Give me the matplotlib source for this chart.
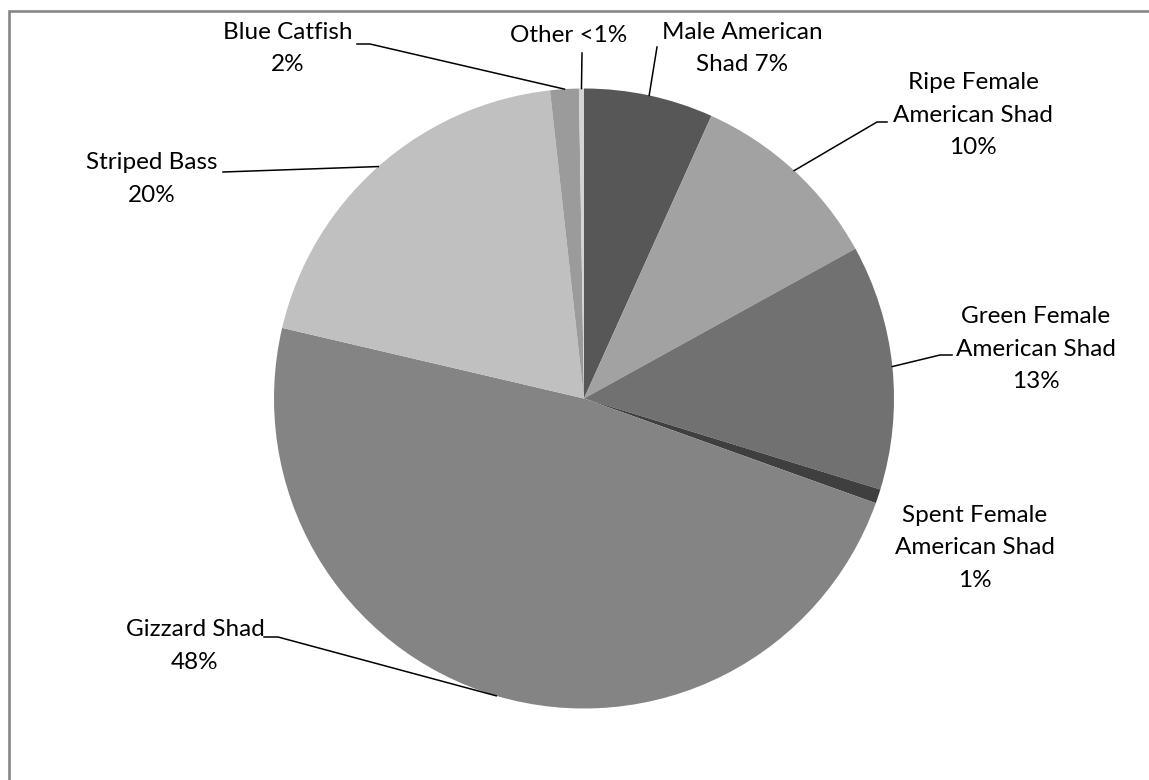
import matplotlib.pyplot as plt
import numpy as np

plt.rcParams['font.family'] = ['Lato', 'DejaVu Sans']

# slices, clockwise from 12 o'clock (percent of catch)
names = ['Male American\nShad', 'Ripe Female\nAmerican Shad', 'Green Female\nAmerican Shad',
         'Spent Female\nAmerican Shad', 'Gizzard Shad', 'Striped Bass', 'Blue Catfish', 'Other']
values = [6.74, 10.23, 12.77, 0.74, 48.17, 19.59, 1.49, 0.26]
pct_text = ['7%', '10%', '13%', '1%', '48%', '20%', '2%', '<1%']
colors = ['#575757', '#a2a2a2', '#717171', '#3f3f3f', '#848484', '#c0c0c0', '#9b9b9b', '#d4d4d4']

W, H = 1149, 780
fig = plt.figure(figsize=(W / 100, H / 100), dpi=100, facecolor='white')
ax = fig.add_axes([0, 0, 1, 1])

def Y(y):  # pixel row (from top) -> axes y
    return H - y

cx, cy, r = 584, Y(398.5), 310
ax.pie(values, colors=colors, startangle=90, counterclock=False,
       center=(cx, cy), radius=r, wedgeprops=dict(linewidth=0))
ax.set_xlim(0, W)
ax.set_ylim(0, H)
ax.set_aspect('equal')
ax.axis('off')

# outer chart frame: only the top and left edges fall inside the picture
ax.plot([8.5, 8.5, W - 0.5], [0.5, Y(10.5), Y(10.5)], color='#868686',
        linewidth=1.9, solid_joinstyle='miter', solid_capstyle='butt')

# label block centres (x, y from top) and leader start points
label_pos = [(742, 48.5), (973, 115), (1036, 349), (975, 548),
             (195, 646), (152, 179), (288, 48.5), (569, 35)]
leader_from = [[(657, 47)], [(887, 122), (877, 122)], [(952, 355), (940, 355)], None,
               [(264, 637), (278, 637)], [(223, 172)], [(357, 44), (370, 44)], [(582, 53)]]

cum = np.cumsum([0] + values[:-1])
total = sum(values)
for i, name in enumerate(names):
    if name == 'Other':
        txt = 'Other ' + pct_text[i]
    elif name == 'Male American\nShad':
        txt = name + ' ' + pct_text[i]
    else:
        txt = name + '\n' + pct_text[i]
    x, y = label_pos[i]
    ax.text(x, Y(y), txt, ha='center', va='center', fontsize=17.5,
            linespacing=1.65, color='#000000')
    if leader_from[i] is not None:
        mid = np.deg2rad((cum[i] + values[i] / 2) / total * 360)
        ex, ey = cx + r * np.sin(mid), cy + r * np.cos(mid)
        xs = [p[0] for p in leader_from[i]] + [ex]
        ys = [Y(p[1]) for p in leader_from[i]] + [ey]
        ax.plot(xs, ys, color='black', linewidth=1.1)

fig.savefig('out.png', dpi=100, facecolor='white')
